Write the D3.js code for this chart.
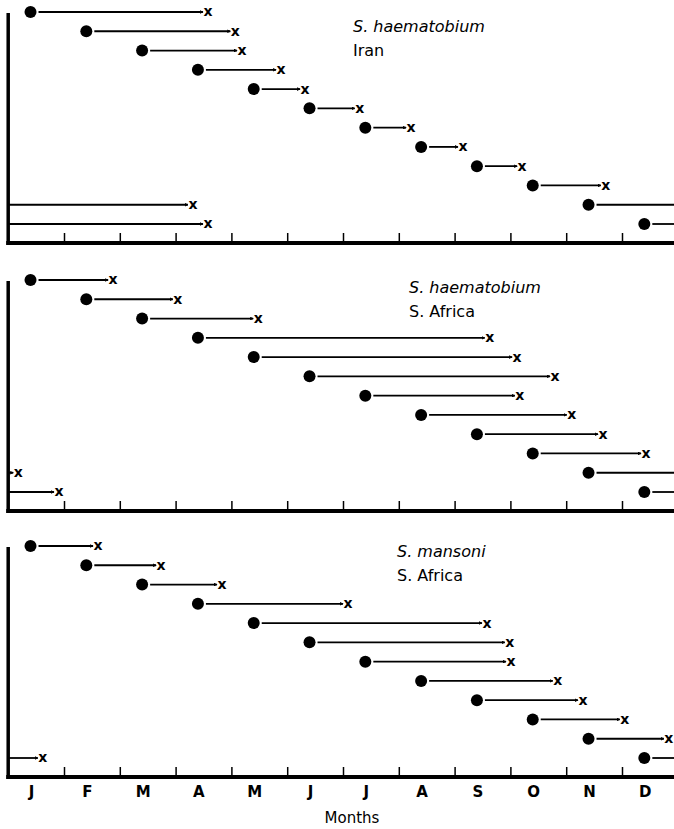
<!DOCTYPE html>
<html>
<head>
<meta charset="utf-8">
<script src="https://d3js.org/d3.v7.min.js"></script>
<style>
  body { margin: 0; background: #fff; }
  text { font-family: "DejaVu Sans", sans-serif; fill: #000; }
</style>
</head>
<body>
<svg width="674" height="829"></svg>
<script>
    // month labels along the bottom
    var months = ["J", "F", "M", "A", "M", "J", "J", "A", "S", "O", "N", "D"];

    // dot position (month of exposure), in months from 1 Jan
    var starts = [0.4, 1.4, 2.4, 3.4, 4.4, 5.4, 6.4, 7.4, 8.4, 9.4, 10.4, 11.4];

    // x position (end of interval), in months; > 12 runs into next year
    var endsIran = [3.58, 4.07, 4.19, 4.89, 5.32, 6.30, 7.22, 8.15, 9.21, 10.71, 15.31, 15.58];
    var endsHaemSA = [1.88, 3.04, 4.48, 8.63, 9.12, 9.80, 9.17, 10.10, 10.66, 11.43, 12.18, 12.91];
    var endsMansSA = [1.61, 2.74, 3.83, 6.09, 8.58, 8.99, 9.01, 9.85, 10.30, 11.05, 11.84, 12.62];

    var panels = [
        {species: "S. haematobium", place: "Iran", ends: endsIran, top: 12, labelX: 353, labelY: 32},
        {species: "S. haematobium", place: "S. Africa", ends: endsHaemSA, top: 280, labelX: 409, labelY: 293},
        {species: "S. mansoni", place: "S. Africa", ends: endsMansSA, top: 546, labelX: 397, labelY: 557}
    ];

    var svg = d3.select("svg");

    var x = d3.scaleLinear().domain([0, 12]).range([8.2, 677.8]);
    var y = d3.scalePoint().domain(d3.range(12)).range([0, 212]);
    var axisGap = 230;
    var r = 6;

    svg.append("defs").append("marker")
        .attr("id", "arrow")
        .attr("viewBox", "0 0 6 6")
        .attr("refX", 5).attr("refY", 3)
        .attr("markerWidth", 2).attr("markerHeight", 2)
        .attr("orient", "auto")
        .append("path")
        .attr("d", "M0,0L6,3L0,6Z")
        .attr("fill", "#000");

    panels.forEach(function(p) {
        var g = svg.append("g")
            .attr("transform", "translate(0," + p.top + ")");

        // x axis: thick base line with month-boundary ticks pointing up
        g.append("g")
            .attr("transform", "translate(0," + axisGap + ")")
            .call(d3.axisTop(x).tickValues(d3.range(1, 12)).tickSize(9).tickFormat(""))
            .call(function(a) {
                a.select(".domain").remove();
                a.selectAll("line").attr("stroke-width", 1.5);
            });
        g.append("line")
            .attr("x1", x(0) - 2).attr("x2", 674)
            .attr("y1", axisGap + 1).attr("y2", axisGap + 1)
            .attr("stroke", "#000").attr("stroke-width", 4);
        g.append("line")
            .attr("x1", x(0)).attr("x2", x(0))
            .attr("y1", 1).attr("y2", axisGap + 3)
            .attr("stroke", "#000").attr("stroke-width", 3.5);

        var rows = g.selectAll(".row")
            .data(p.ends.map(function(e, i) { return {i: i, s: starts[i], e: e}; }))
            .enter().append("g")
            .attr("class", "row")
            .attr("transform", function(d) { return "translate(0," + y(d.i) + ")"; });

        // first segment: dot to x, or dot to the year end if it wraps
        rows.append("line")
            .attr("x1", function(d) { return x(d.s) + r + 2; })
            .attr("x2", function(d) { return d.e > 12 ? x(12) : x(d.e) - 5; })
            .attr("stroke", "#000").attr("stroke-width", 1.8)
            .attr("marker-end", function(d) { return d.e > 12 ? null : "url(#arrow)"; });

        // wrapped part continues from January
        rows.filter(function(d) { return d.e > 12; }).append("line")
            .attr("x1", x(0))
            .attr("x2", function(d) { return x(d.e - 12) - 5; })
            .attr("stroke", "#000").attr("stroke-width", 1.8)
            .attr("marker-end", "url(#arrow)");

        rows.append("circle")
            .attr("cx", function(d) { return x(d.s); })
            .attr("r", r)
            .attr("fill", "#000");

        rows.append("text")
            .attr("x", function(d) { return x(d.e > 12 ? d.e - 12 : d.e); })
            .attr("dy", "0.32em")
            .attr("text-anchor", "middle")
            .style("font-size", "14px")
            .style("font-weight", "bold")
            .text("x");

        g.append("text")
            .attr("x", p.labelX)
            .attr("y", p.labelY - p.top)
            .style("font-size", "16px")
            .style("font-style", "italic")
            .text(p.species);
        g.append("text")
            .attr("x", p.labelX)
            .attr("y", p.labelY - p.top + 24)
            .style("font-size", "16px")
            .text(p.place);
    });

    // month labels and axis title
    svg.selectAll(".month")
        .data(months)
        .enter().append("text")
        .attr("class", "month")
        .attr("x", function(d, i) { return x(starts[i]) + 1; })
        .attr("y", 797)
        .attr("text-anchor", "middle")
        .style("font-size", "15px")
        .style("font-weight", "bold")
        .text(function(d) { return d; });

    svg.append("text")
        .attr("x", 352)
        .attr("y", 823)
        .attr("text-anchor", "middle")
        .style("font-size", "15px")
        .text("Months");
</script>
</body>
</html>
